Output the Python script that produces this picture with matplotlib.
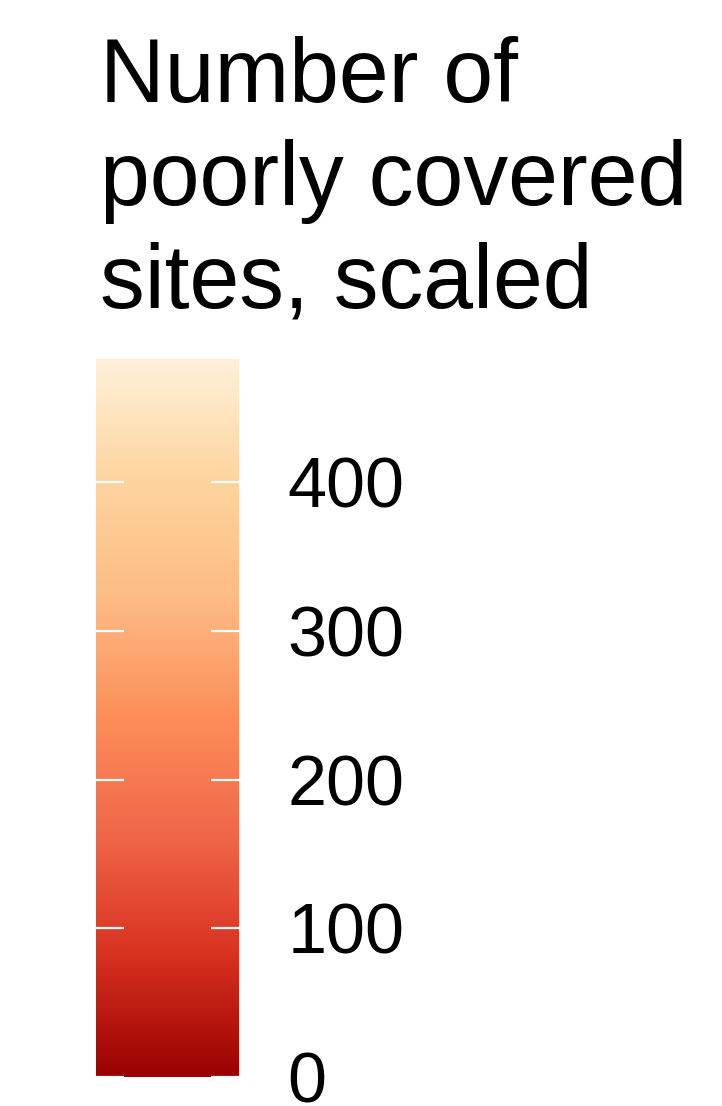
import matplotlib
matplotlib.use("Agg")
import matplotlib.pyplot as plt
import numpy as np
from matplotlib.colors import LinearSegmentedColormap, Normalize
from matplotlib.cm import ScalarMappable

plt.rcParams['font.family'] = ['Liberation Sans', 'DejaVu Sans']

# Legend content
legend_title = "Number of\npoorly covered\nsites, scaled"
value_min = 0
value_max = 483
tick_values = [0, 100, 200, 300, 400]
tick_labels = ["0", "100", "200", "300", "400"]
palette = ["#990000", "#D7301F", "#EF6548", "#FC8D59", "#FDBB84", "#FDD49E", "#FEF0D9"]

W, H = 722, 1106
fig = plt.figure(figsize=(W / 100, H / 100), dpi=100)
fig.patch.set_facecolor("white")

cmap = LinearSegmentedColormap.from_list("orrd7", palette, N=512)
norm = Normalize(vmin=value_min, vmax=value_max)

# colour bar axes (pixel box converted to figure fractions)
bar_left, bar_right, bar_top, bar_bottom = 96, 239, 359, 1077
cax = fig.add_axes([bar_left / W, 1 - bar_bottom / H,
                    (bar_right - bar_left) / W, (bar_bottom - bar_top) / H])
cbar = fig.colorbar(ScalarMappable(norm=norm, cmap=cmap), cax=cax,
                    orientation="vertical", ticks=tick_values)
cbar.outline.set_visible(False)
cbar.ax.set_yticklabels(tick_labels)
cax.tick_params(axis="y", which="both", left=True, right=True,
                direction="in", length=20, width=1.6, color="white",
                labelsize=50.5, pad=35, labelcolor="black")
cax.minorticks_off()

fig.text(100 / W, 1 - 36 / H, legend_title, ha="left", va="top",
         fontsize=64.5, color="black", linespacing=1.27)

fig.savefig("out.png", dpi=100, facecolor="white")
